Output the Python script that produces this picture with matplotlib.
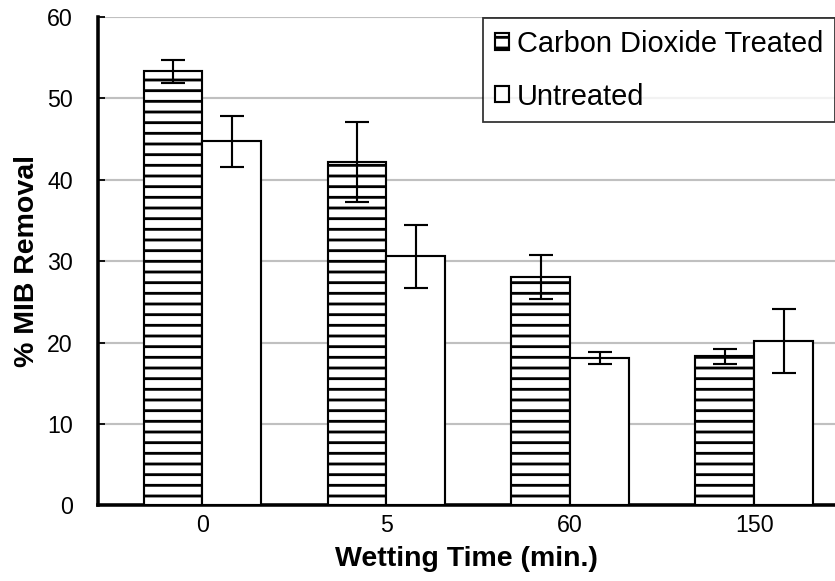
import numpy as np
import matplotlib
matplotlib.use("Agg")
import matplotlib.pyplot as plt

# data
times = ["0", "5", "60", "150"]
treated = [53.3, 42.2, 28.0, 18.3]
treated_err = [1.4, 4.9, 2.7, 0.9]
untreated = [44.7, 30.6, 18.1, 20.2]
untreated_err = [3.1, 3.9, 0.7, 3.9]

plt.rcParams['font.family'] = ['Liberation Sans', 'DejaVu Sans']
plt.rcParams['hatch.linewidth'] = 1.6
plt.rcParams['hatch.color'] = 'black'

dpi = 128
fig = plt.figure(figsize=(835 / dpi, 581 / dpi), dpi=dpi)
ax = fig.add_axes([0.117, 0.13, 0.883, 0.841])

x = np.arange(len(times))
w = 0.32
ekw = dict(ecolor='black', elinewidth=1.2, capsize=6.5, capthick=1.2)
ax.bar(x - w / 2, treated, w, yerr=treated_err, color='white',
       edgecolor='black', linewidth=1.2, hatch='--',
       label='Carbon Dioxide Treated', error_kw=ekw, zorder=3)
ax.bar(x + w / 2, untreated, w, yerr=untreated_err, color='white',
       edgecolor='black', linewidth=1.2,
       label='Untreated', error_kw=ekw, zorder=3)

ax.set_xlim(-0.57, 3.44)
ax.set_ylim(0, 60)
ax.set_yticks(range(0, 61, 10))
ax.set_xticks(x)
ax.set_xticklabels(times)
ax.yaxis.grid(True, color='#c0c0c0', linewidth=1.2, zorder=0)
ax.set_axisbelow(True)

for s in ['top', 'right']:
    ax.spines[s].set_visible(False)
for s in ['left', 'bottom']:
    ax.spines[s].set_linewidth(2.0)

ax.tick_params(axis='y', direction='in', length=4, width=1.0,
               labelsize=13, pad=14)
ax.tick_params(axis='x', length=0, labelsize=13, pad=5)

ax.set_xlabel('Wetting Time (min.)', fontsize=16, fontweight='bold',
              labelpad=5)
ax.set_ylabel('% MIB Removal', fontsize=16, fontweight='bold',
              labelpad=4)

leg = ax.legend(loc='upper left', bbox_to_anchor=(483 / 835, 1 - 18 / 581),
                bbox_transform=fig.transFigure, fontsize=16.3,
                frameon=True, fancybox=False, handlelength=0.5,
                handleheight=0.5, handletextpad=0.28, borderpad=0.4,
                labelspacing=0.86, borderaxespad=0)
leg.get_frame().set_edgecolor('black')
leg.get_frame().set_linewidth(1.0)

fig.savefig('out.png', dpi=dpi)
